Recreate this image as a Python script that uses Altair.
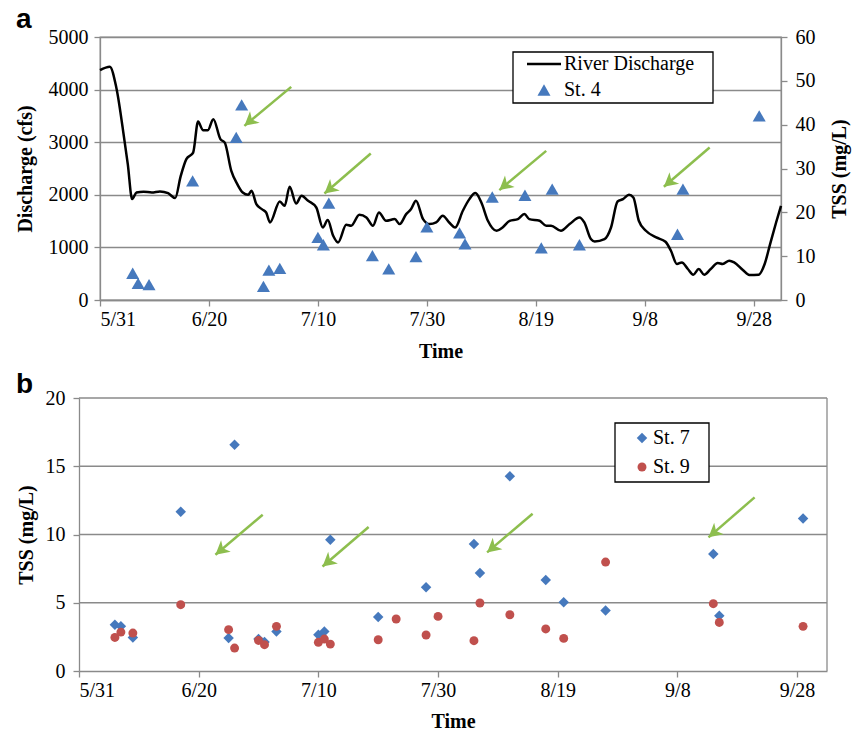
import json
import altair as alt
import pandas as pd

# ---------------- data (x = days after 5/31) ----------------
tick_days = [0, 20, 40, 60, 80, 100, 120]
tick_labels = ["5/31", "6/20", "7/10", "7/30", "8/19", "9/8", "9/28"]

discharge_day = [0, 1.8, 3.0, 4.5, 5.1, 5.9, 6.7, 8.0, 9.5, 11.0, 12.5, 13.8, 14.8, 15.85,
                 17.1, 18.0, 18.9, 19.8, 20.8, 22.1, 22.9, 24.1, 25.2, 26.2, 27.2, 27.8,
                 28.7, 29.7, 30.5, 31.2, 33.0, 33.9, 34.8, 36.0, 37.0, 38.2, 39.7, 40.9,
                 41.8, 42.8, 43.7, 45.2, 46.1, 47.6, 48.9, 50.1, 51.2, 52.5, 54.1, 55.0,
                 56.2, 57.1, 58.0, 59.3, 60.5, 61.7, 62.9, 64.1, 65.2, 66.6, 67.8, 68.9,
                 70.0, 71.2, 72.8, 73.9, 75.2, 76.7, 77.9, 78.8, 80.7, 81.9, 82.8, 84.6,
                 86.2, 88.0, 88.9, 90.1, 90.8, 92.6, 93.8, 95.0, 96.0, 97.1, 97.9, 98.9,
                 100.2, 102.1, 103.8, 104.8, 105.9, 106.8, 107.9, 108.9, 109.9, 110.9,
                 112.1, 113.4, 114.3, 115.5, 116.4, 118.0, 119.2, 120.9, 122.0, 123.0,
                 124.1, 125.0]
discharge_cfs = [4370, 4436, 4037, 3025, 2583, 1918, 2043, 2060, 2045, 2065, 2030, 1937, 2350, 2678,
                 2803, 3392, 3228, 3228, 3437, 3058, 2993, 2455, 2203, 2043, 2000, 2076,
                 1823, 1728, 1664, 1474, 1873, 1791, 2152, 1835, 1981, 1886, 1759, 1379,
                 1519, 1221, 1094, 1430, 1411, 1620, 1569, 1411, 1664, 1506, 1538, 1443,
                 1633, 1728, 1886, 1538, 1443, 1474, 1601, 1474, 1379, 1696, 1918, 2032,
                 1853, 1506, 1316, 1379, 1506, 1538, 1633, 1538, 1506, 1411, 1411, 1316,
                 1443, 1569, 1474, 1158, 1113, 1158, 1379, 1873, 1918, 2000, 1949, 1506,
                 1316, 1189, 1107, 936, 684, 715, 589, 481, 589, 481,
                 589, 703, 684, 747, 715, 570, 475, 481, 684, 1063,
                 1474, 1791]

st4_day = [6, 7, 9, 17, 25, 26, 30, 31, 33, 40, 41, 42, 50, 53, 58, 60, 66, 67, 72, 78, 81, 83, 88, 106, 107, 121]
st4_tss = [6.1, 3.8, 3.5, 27.2, 37.1, 44.5, 3.1, 6.8, 7.2, 14.3, 12.6, 22.1, 10.1, 7.1, 9.9, 16.7,
           15.3, 12.8, 23.5, 23.9, 11.9, 25.3, 12.6, 15.0, 25.3, 42.0]

st7_day = [6, 7, 9, 17, 25, 26, 30, 31, 33, 40, 41, 42, 50, 58, 66, 67, 72, 78, 81, 88, 106, 107, 121]
st7_tss = [3.39, 3.27, 2.46, 11.67, 2.42, 16.58, 2.34, 2.12, 2.9, 2.66, 2.9, 9.62, 3.95, 6.13,
           9.3, 7.18, 14.26, 6.67, 5.03, 4.44, 8.57, 4.05, 11.18]

st9_day = [6, 7, 9, 17, 25, 26, 30, 31, 33, 40, 41, 42, 50, 53, 58, 60, 66, 67, 72, 78, 81, 88, 106, 107, 121]
st9_tss = [2.46, 2.85, 2.78, 4.86, 3.03, 1.68, 2.24, 1.93, 3.27, 2.1, 2.34, 1.97, 2.29, 3.81, 2.64,
           4.0, 2.22, 4.98, 4.12, 3.08, 2.39, 7.98, 4.93, 3.56, 3.27]

yb_ticks = [0, 5, 10, 15, 20]

# annotation arrows (tail -> head)
arrow_a_tail_day = [35.1, 49.7, 81.9, 111.9]
arrow_a_tail_cfs = [4052, 2785, 2835, 2899]
arrow_a_head_day = [26.5, 41.2, 73.3, 103.5]
arrow_a_head_cfs = [3311, 2025, 2089, 2152]

arrow_b_tail_day = [30.7, 48.4, 75.8, 112.9]
arrow_b_tail_tss = [11.45, 10.55, 11.52, 12.72]
arrow_b_head_day = [22.8, 40.7, 68.2, 105.2]
arrow_b_head_tss = [8.52, 7.66, 8.69, 9.79]

# ---------------- style ----------------
GRAY = "#8a8a8a"
BLUE = "#4679BD"
RED = "#C0504D"
GREEN = "#8DBE4E"
SERIF = "Liberation Serif"
SANS = "Liberation Sans"
ARROW_PATH = "M0,0 L0.55,1 L0,0.72 L-0.55,1 Z"

label_expr = "%s[round(datum.value / 20)]" % json.dumps(tick_labels)

DOMAIN_X = [0, 125]

df_q = pd.DataFrame({"day": discharge_day, "cfs": discharge_cfs})
df_st4 = pd.DataFrame({"day": st4_day, "tss": st4_tss})
df_st7 = pd.DataFrame({"day": st7_day, "tss": st7_tss})
df_st9 = pd.DataFrame({"day": st9_day, "tss": st9_tss})
df_arr_a = pd.DataFrame({"d0": arrow_a_tail_day, "v0": arrow_a_tail_cfs,
                         "d1": arrow_a_head_day, "v1": arrow_a_head_cfs})
df_arr_b = pd.DataFrame({"d0": arrow_b_tail_day, "v0": arrow_b_tail_tss,
                         "d1": arrow_b_head_day, "v1": arrow_b_head_tss})
df_grid_b = pd.DataFrame({"g": yb_ticks[1:]})
one = pd.DataFrame({"k": [0]})

AX = dict(labelFont=SERIF, labelFontSize=20, labelColor="black",
          titleFont=SERIF, titleFontSize=20, titleFontWeight="bold", titleColor="black",
          domainColor=GRAY, domainWidth=1.3, tickColor=GRAY, tickWidth=1.3, tickSize=6,
          gridColor=GRAY, gridWidth=1.3, gridOpacity=1)


def x_axis(title_y):
    return alt.Axis(values=tick_days, labelExpr=label_expr, title="Time", grid=False,
                    labelPadding=3, titleY=title_y, titleBaseline="alphabetic", **AX)


x_scale = alt.Scale(domain=DOMAIN_X, nice=False, zero=False)

# ---------------- panel a ----------------
ya_scale = alt.Scale(domain=[0, 5000], nice=False)
A_TITLE = "Discharge (cfs)"

line = alt.Chart(df_q).mark_line(color="black", strokeWidth=2.5, interpolate="monotone").encode(
    x=alt.X("day:Q", scale=x_scale, axis=x_axis(57)),
    y=alt.Y("cfs:Q", scale=ya_scale,
            axis=alt.Axis(values=[0, 1000, 2000, 3000, 4000, 5000], format="d", title=A_TITLE,
                          grid=True, labelPadding=6, titleX=-75,
                          titleBaseline="middle", **AX)),
)

arrow_a_line = alt.Chart(df_arr_a).mark_rule(color=GREEN, strokeWidth=2.5).encode(
    x=alt.X("d0:Q", scale=x_scale, title="Time"), x2="d1:Q",
    y=alt.Y("v0:Q", scale=ya_scale, title=A_TITLE), y2="v1:Q",
)
arrow_a_head = alt.Chart(df_arr_a).mark_point(shape=ARROW_PATH, filled=True, color=GREEN,
                                              opacity=1, size=750, angle=230).encode(
    x=alt.X("d1:Q", scale=x_scale, title="Time"),
    y=alt.Y("v1:Q", scale=ya_scale, title=A_TITLE),
)

leg_a_box = alt.Chart(one).mark_rect(fill="white", stroke="black", strokeWidth=1.3).encode(
    x=alt.value(413), x2=alt.value(613), y=alt.value(15), y2=alt.value(66))
leg_a_line = alt.Chart(one).mark_rule(color="black", strokeWidth=2.5).encode(
    x=alt.value(427), x2=alt.value(461), y=alt.value(27))
leg_a_tri = alt.Chart(one).mark_point(shape="triangle-up", filled=True, color=BLUE,
                                      opacity=1, size=170).encode(
    x=alt.value(444), y=alt.value(53))
leg_a_txt1 = alt.Chart(one).mark_text(text="River Discharge", font=SERIF, fontSize=20,
                                      align="left", baseline="middle", color="black").encode(
    x=alt.value(464), y=alt.value(27))
leg_a_txt2 = alt.Chart(one).mark_text(text="St. 4", font=SERIF, fontSize=20,
                                      align="left", baseline="middle", color="black").encode(
    x=alt.value(464), y=alt.value(53))
label_a = alt.Chart(one).mark_text(text="a", font=SANS, fontSize=28, fontWeight="bold",
                                   align="left", baseline="alphabetic", color="black").encode(
    x=alt.value(-84), y=alt.value(-9))

left_group = alt.layer(line, arrow_a_line, arrow_a_head, leg_a_box, leg_a_line, leg_a_tri,
                       leg_a_txt1, leg_a_txt2, label_a)

tri = alt.Chart(df_st4).mark_point(shape="triangle-up", filled=True, color=BLUE,
                                   opacity=1, size=170).encode(
    x=alt.X("day:Q", scale=x_scale, title="Time"),
    y=alt.Y("tss:Q", scale=alt.Scale(domain=[0, 60], nice=False),
            axis=alt.Axis(orient="right", values=[0, 10, 20, 30, 40, 50, 60], title="TSS (mg/L)",
                          grid=False, labelPadding=8, titleAngle=270,
                          titleX=58, titleBaseline="middle", **AX)),
)

panel_a = alt.layer(left_group, tri).resolve_scale(y="independent").properties(
    width=681, height=263)

# ---------------- panel b ----------------
# the concat lines up plot origins; panel b's plot starts 21 px further left,
# so its x range begins at -21 and its y axis is offset by 21 px.
SHIFT = 21
WB = 727
xb_scale = alt.Scale(domain=DOMAIN_X, nice=False, zero=False, range=[-SHIFT, WB])
yb_scale = alt.Scale(domain=[0, 20], nice=False)
B_TITLE = "TSS (mg/L)"

grid_b = alt.Chart(df_grid_b).mark_rule(color=GRAY, strokeWidth=1.3).encode(
    x=alt.value(-SHIFT), x2=alt.value(WB),
    y=alt.Y("g:Q", scale=yb_scale, title=B_TITLE),
)
right_border_b = alt.Chart(one).mark_rule(color=GRAY, strokeWidth=1.3).encode(
    x=alt.value(WB), y=alt.value(0), y2=alt.value(273))

dia = alt.Chart(df_st7).mark_point(shape="diamond", filled=True, color=BLUE,
                                   opacity=1, size=110).encode(
    x=alt.X("day:Q", scale=xb_scale, axis=x_axis(56)),
    y=alt.Y("tss:Q", scale=yb_scale,
            axis=alt.Axis(values=yb_ticks, title=B_TITLE, grid=False, offset=SHIFT,
                          labelPadding=8, titleX=-53, titleBaseline="middle", **AX)),
)
circ = alt.Chart(df_st9).mark_point(shape="circle", filled=True, color=RED,
                                    opacity=1, size=80).encode(
    x=alt.X("day:Q", scale=xb_scale, title="Time"),
    y=alt.Y("tss:Q", scale=yb_scale, title=B_TITLE),
)
arrow_b_line = alt.Chart(df_arr_b).mark_rule(color=GREEN, strokeWidth=2.5).encode(
    x=alt.X("d0:Q", scale=xb_scale, title="Time"), x2="d1:Q",
    y=alt.Y("v0:Q", scale=yb_scale, title=B_TITLE), y2="v1:Q",
)
arrow_b_head = alt.Chart(df_arr_b).mark_point(shape=ARROW_PATH, filled=True, color=GREEN,
                                              opacity=1, size=750, angle=230).encode(
    x=alt.X("d1:Q", scale=xb_scale, title="Time"),
    y=alt.Y("v1:Q", scale=yb_scale, title=B_TITLE),
)
leg_b_box = alt.Chart(one).mark_rect(fill="white", stroke="black", strokeWidth=1.3).encode(
    x=alt.value(515), x2=alt.value(609), y=alt.value(25), y2=alt.value(84))
leg_b_dia = alt.Chart(one).mark_point(shape="diamond", filled=True, color=BLUE,
                                      opacity=1, size=110).encode(
    x=alt.value(542), y=alt.value(40))
leg_b_circ = alt.Chart(one).mark_point(shape="circle", filled=True, color=RED,
                                       opacity=1, size=80).encode(
    x=alt.value(542), y=alt.value(69))
leg_b_txt1 = alt.Chart(one).mark_text(text="St. 7", font=SERIF, fontSize=20,
                                      align="left", baseline="middle", color="black").encode(
    x=alt.value(553), y=alt.value(40))
leg_b_txt2 = alt.Chart(one).mark_text(text="St. 9", font=SERIF, fontSize=20,
                                      align="left", baseline="middle", color="black").encode(
    x=alt.value(553), y=alt.value(69))
label_b = alt.Chart(one).mark_text(text="b", font=SANS, fontSize=28, fontWeight="bold",
                                   align="left", baseline="alphabetic", color="black").encode(
    x=alt.value(-84), y=alt.value(-5))

panel_b = alt.layer(grid_b, right_border_b, dia, circ, arrow_b_line, arrow_b_head,
                    leg_b_box, leg_b_dia, leg_b_circ, leg_b_txt1, leg_b_txt2, label_b
                    ).properties(width=WB, height=273,
                                 view=alt.ViewBackground(strokeOpacity=0))

chart = alt.vconcat(panel_a, panel_b, spacing=9).properties(
    padding={"left": 14, "top": 5, "right": 5, "bottom": 5},
    background="white",
).configure_view(
    stroke=GRAY, strokeWidth=1.3
)

chart.save("out.html", embed_options={"renderer": "svg", "actions": False})
